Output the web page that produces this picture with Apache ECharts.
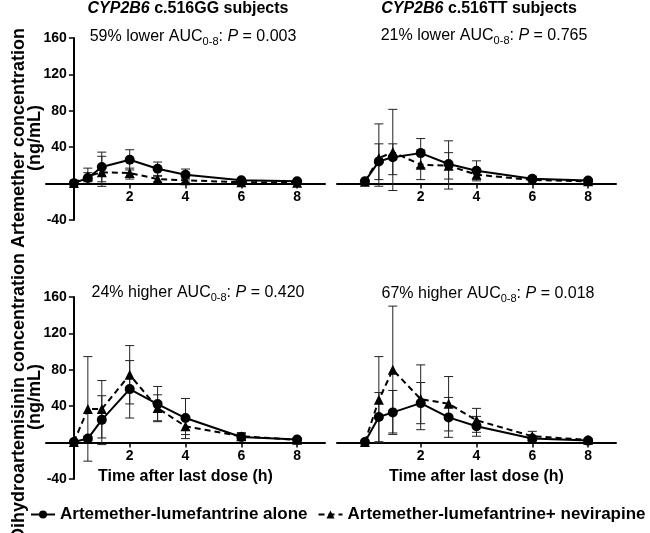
<!DOCTYPE html>
<html>
<head>
<meta charset="utf-8">
<script src="https://cdn.jsdelivr.net/npm/echarts@6/dist/echarts.min.js"></script>
<style>html,body{margin:0;padding:0;background:#fff}#c{width:650px;height:533px}</style>
</head>
<body>
<div id="c"></div>
<script>
// ---- data ----
const times = [0, 0.5, 1, 2, 3, 4, 6, 8];
const xTickLabels = [2, 4, 6, 8];
const yTickLabels = [-40, 40, 80, 120, 160];
const seriesNames = ['Artemether-lumefantrine alone', 'Artemether-lumefantrine+ nevirapine'];

// Artemether, CYP2B6 c.516GG
const artGG_alone = [0.5, 6.2, 18.2, 26.2, 16.4, 9.8, 3.6, 2.5];
const artGG_alone_lo = [0.5, 2, 2, 15, 9, 4, 2, 1.5];
const artGG_alone_hi = [0.5, 17, 34.6, 37.2, 23.7, 16, 5, 3.5];
const artGG_nev = [0.7, 8, 12.4, 11.7, 5, 3.6, 1.5, 1];
const artGG_nev_lo = [0.7, 4, -3, 5, 2, 1.5, 0.5, 0.5];
const artGG_nev_hi = [0.7, 12, 30, 17, 8, 6, 2.5, 1.5];

// Artemether, CYP2B6 c.516TT
const artTT_alone = [2.5, 24.4, 29, 33.5, 21.5, 14.2, 5.4, 3.3];
const artTT_alone_lo = [2.5, 4.4, 9.8, 17.5, -6, 3, 3, 2];
const artTT_alone_hi = [2.5, 43.7, 43.7, 49.5, 47, 25, 8, 4.5];
const artTT_nev = [2, 28, 34.6, 20.8, 19.7, 9.8, 4, 2.5];
const artTT_nev_lo = [2, -2.9, -7.6, 4.4, 5, 5, 2, 1.5];
const artTT_nev_hi = [2, 65.6, 81.6, 37, 34, 15, 6, 3.5];

// Dihydroartemisinin, CYP2B6 c.516GG
const dhaGG_alone = [0.7, 4.4, 25, 58.8, 42.3, 27, 6.2, 3.3];
const dhaGG_alone_lo = [0.7, 2, -2.2, 27, 23, 4.4, 3, 2];
const dhaGG_alone_hi = [0.7, 7, 51.5, 90.1, 61.7, 48.5, 10, 5];
const dhaGG_nev = [0.7, 36.9, 36.9, 74.5, 38, 17.9, 7, 3];
const dhaGG_nev_lo = [0.7, -20.4, 5.1, 42.5, 24, 8.8, 3, 2];
const dhaGG_nev_hi = [0.7, 94.5, 68.2, 106.6, 52.5, 27, 11, 4.5];

// Dihydroartemisinin, CYP2B6 c.516TT
const dhaTT_alone = [0.7, 28.1, 33.2, 43.4, 27.7, 17.9, 4.4, 2.2];
const dhaTT_alone_lo = [0.7, 1, 9, 20.8, 5.8, 7, 2, 1];
const dhaTT_alone_hi = [0.7, 55, 57.3, 66, 49.6, 28.8, 7, 3.5];
const dhaTT_nev = [0.7, 47, 80, 47.8, 42.7, 24.5, 7, 3];
const dhaTT_nev_lo = [0.7, 0, 10.6, 14.2, 12.8, 11.3, 2, 2];
const dhaTT_nev_hi = [0.7, 94.5, 150, 85.4, 72.6, 37.6, 12.4, 4];

const FONT = "'Liberation Sans', Arial, Helvetica, sans-serif";
const X_MIN = -1, X_MAX = 9, Y_MIN = -40, Y_MAX = 160;

// ---- chart ----
const chart = echarts.init(document.getElementById('c'), null, {renderer: 'canvas'});

const grids = [
  {left: 46, top: 38, width: 279, height: 182},
  {left: 337, top: 38, width: 279, height: 182},
  {left: 46, top: 297, width: 279, height: 182},
  {left: 337, top: 297, width: 279, height: 182}
];

// axes cross at zero: shift whole axis (line, ticks, labels, name) to the zero of the other axis
function xAxisFor(i, withName) {
  const g = grids[i];
  return {
    type: 'value', gridIndex: i, min: X_MIN, max: X_MAX,
    offset: -g.height * (0 - Y_MIN) / (Y_MAX - Y_MIN),
    axisLine: {onZero: false, lineStyle: {color: '#000', width: 2}},
    axisTick: {customValues: xTickLabels, length: 5, lineStyle: {color: '#000', width: 1.5}},
    axisLabel: {customValues: xTickLabels, margin: 7, color: '#000', fontFamily: FONT, fontWeight: 'bold', fontSize: 14},
    splitLine: {show: false},
    name: withName ? 'Time after last dose (h)' : '',
    nameLocation: 'middle', nameGap: 26,
    nameTextStyle: {color: '#000', fontFamily: FONT, fontWeight: 'bold', fontSize: 16}
  };
}
function yAxisFor(i, visible) {
  const g = grids[i];
  return {
    type: 'value', gridIndex: i, min: Y_MIN, max: Y_MAX, interval: 40,
    show: visible,
    offset: -g.width * (0 - X_MIN) / (X_MAX - X_MIN),
    axisLine: {show: true, onZero: false, lineStyle: {color: '#000', width: 2}},
    axisTick: {show: true, customValues: yTickLabels, length: 5, lineStyle: {color: '#000', width: 1.5}},
    axisLabel: {customValues: yTickLabels, margin: 7, color: '#000', fontFamily: FONT, fontWeight: 'bold', fontSize: 14},
    splitLine: {show: false}
  };
}

function pts(vals) { return times.map((t, i) => [t, vals[i]]); }
function errPts(lo, hi) { return times.map((t, i) => [t, lo[i], hi[i]]); }

function errRender(params, api) {
  const x = api.value(0), lo = api.value(1), hi = api.value(2);
  if (Math.abs(hi - lo) < 0.01) return null;
  const a = api.coord([x, hi]), b = api.coord([x, lo]);
  const hw = 4.5;
  const st = {stroke: '#222', lineWidth: 1};
  return {type: 'group', children: [
    {type: 'line', shape: {x1: a[0], y1: a[1], x2: b[0], y2: b[1]}, style: st},
    {type: 'line', shape: {x1: a[0] - hw, y1: a[1], x2: a[0] + hw, y2: a[1]}, style: st},
    {type: 'line', shape: {x1: b[0] - hw, y1: b[1], x2: b[0] + hw, y2: b[1]}, style: st}
  ]};
}

const panels = [
  {alone: artGG_alone, aLo: artGG_alone_lo, aHi: artGG_alone_hi, nev: artGG_nev, nLo: artGG_nev_lo, nHi: artGG_nev_hi},
  {alone: artTT_alone, aLo: artTT_alone_lo, aHi: artTT_alone_hi, nev: artTT_nev, nLo: artTT_nev_lo, nHi: artTT_nev_hi},
  {alone: dhaGG_alone, aLo: dhaGG_alone_lo, aHi: dhaGG_alone_hi, nev: dhaGG_nev, nLo: dhaGG_nev_lo, nHi: dhaGG_nev_hi},
  {alone: dhaTT_alone, aLo: dhaTT_alone_lo, aHi: dhaTT_alone_hi, nev: dhaTT_nev, nLo: dhaTT_nev_lo, nHi: dhaTT_nev_hi}
];

const series = [];
panels.forEach((p, i) => {
  series.push({
    type: 'custom', name: 'err-nev-' + i, xAxisIndex: i, yAxisIndex: i, z: 1,
    renderItem: errRender, encode: {x: 0, y: [1, 2]}, data: errPts(p.nLo, p.nHi), silent: true
  });
  series.push({
    type: 'custom', name: 'err-alone-' + i, xAxisIndex: i, yAxisIndex: i, z: 1,
    renderItem: errRender, encode: {x: 0, y: [1, 2]}, data: errPts(p.aLo, p.aHi), silent: true
  });
  series.push({
    type: 'line', name: seriesNames[1], xAxisIndex: i, yAxisIndex: i, z: 3,
    data: pts(p.nev), symbol: 'triangle', symbolSize: 10, showAllSymbol: true,
    lineStyle: {color: '#000', width: 2, type: [6, 4]}, itemStyle: {color: '#000'}
  });
  series.push({
    type: 'line', name: seriesNames[0], xAxisIndex: i, yAxisIndex: i, z: 4,
    data: pts(p.alone), symbol: 'circle', symbolSize: 10, showAllSymbol: true,
    lineStyle: {color: '#000', width: 2}, itemStyle: {color: '#000'}
  });
});

const annStyle = (txt, x, y) => ({
  type: 'text', x: x, y: y,
  style: {
    text: txt, align: 'center', verticalAlign: 'middle',
    fontFamily: FONT, fontSize: 16, fill: '#000', lineHeight: 20,
    rich: {
      n: {fontFamily: FONT, fontSize: 16, fill: '#000', lineHeight: 20},
      sub: {fontFamily: FONT, fontSize: 11, fill: '#000', lineHeight: 11, verticalAlign: 'bottom'},
      i: {fontFamily: FONT, fontSize: 16, fontStyle: 'italic', fill: '#000', lineHeight: 20}
    }
  }
});
const headStyle = (txt, x, y) => ({
  type: 'text', x: x, y: y,
  style: {
    text: txt, align: 'center', verticalAlign: 'middle',
    fontFamily: FONT, fontSize: 16, fontWeight: 'bold', fill: '#000',
    rich: {
      b: {fontFamily: FONT, fontSize: 16, fontWeight: 'bold', fill: '#000'},
      bi: {fontFamily: FONT, fontSize: 16, fontWeight: 'bold', fontStyle: 'italic', fill: '#000'}
    }
  }
});
const yNameStyle = (txt, x, y) => ({
  type: 'text', x: x, y: y, rotation: Math.PI / 2,
  style: {
    text: txt, align: 'center', verticalAlign: 'middle',
    fontFamily: FONT, fontSize: 18, fontWeight: 'bold', fill: '#000', lineHeight: 16
  }
});

const option = {
  animation: false,
  backgroundColor: '#fff',
  grid: grids,
  xAxis: [xAxisFor(0, false), xAxisFor(1, false), xAxisFor(2, true), xAxisFor(3, true)],
  yAxis: [yAxisFor(0, true), yAxisFor(1, false), yAxisFor(2, true), yAxisFor(3, false)],
  legend: {
    data: seriesNames, left: 25, top: 501, width: 625, itemGap: 10,
    itemWidth: 24, itemHeight: 10,
    textStyle: {color: '#000', fontFamily: FONT, fontWeight: 'bold', fontSize: 17}
  },
  graphic: [
    headStyle('{bi|CYP2B6} {b|c.516GG subjects}', 188, 9),
    headStyle('{bi|CYP2B6} {b|c.516TT subjects}', 479, 9),
    annStyle('{n|59% lower AUC}{sub|0-8}{n|: }{i|P}{n| = 0.003}', 193, 37),
    annStyle('{n|21% lower AUC}{sub|0-8}{n|: }{i|P}{n| = 0.765}', 484, 36),
    annStyle('{n|24% higher AUC}{sub|0-8}{n|: }{i|P}{n| = 0.420}', 198, 293),
    annStyle('{n|67% higher AUC}{sub|0-8}{n|: }{i|P}{n| = 0.018}', 488, 294),
    yNameStyle('Artemether concentration\n(ng/mL)', 27, 138),
    yNameStyle('Dihydroartemisinin concentration\n(ng/mL)', 27, 397)
  ],
  series: series
};
chart.setOption(option);
</script>
</body>
</html>
